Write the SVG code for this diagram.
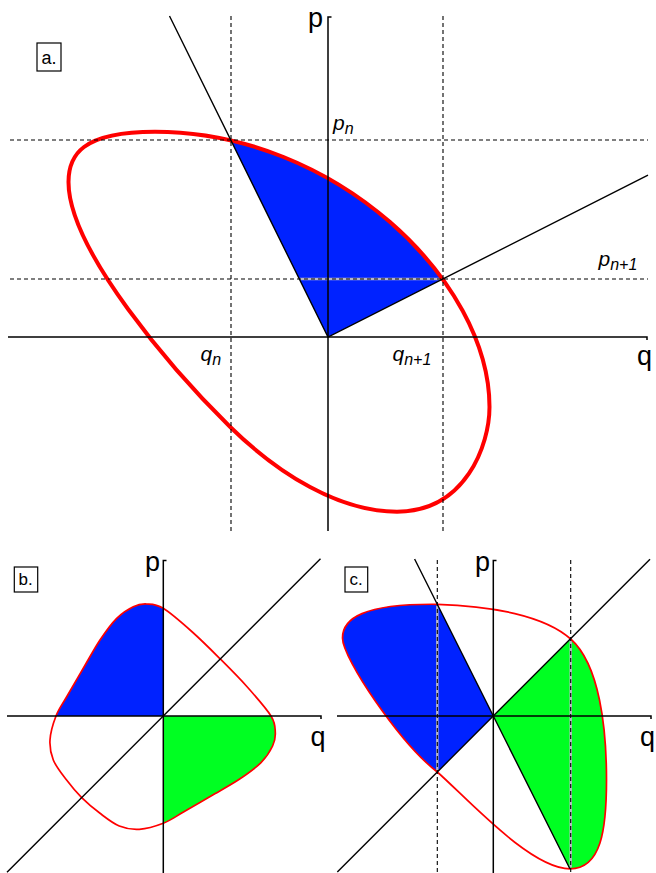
<svg xmlns="http://www.w3.org/2000/svg" width="656" height="873" viewBox="0 0 656 873">
<style>
.ax{fill:none;stroke:#000;stroke-width:1.5}
.ln{fill:none;stroke:#000;stroke-width:1.4}
.ds{fill:none;stroke:#000;stroke-width:1.1;stroke-dasharray:4 3}
.ov{fill:none;stroke:#b8b8c8;stroke-width:2.4}
.blue{fill:#0022ff;stroke:none}
.green{fill:#00ff22;stroke:none}
.redA{fill:none;stroke:#ff0000;stroke-width:4}
.redB{fill:none;stroke:#ff0000;stroke-width:1.7}
.lab{font-family:"Liberation Sans",Arial,sans-serif;font-size:27px;fill:#000}
.it{font-family:"Liberation Sans",Arial,sans-serif;font-style:italic;font-size:21px;fill:#000}
.box{fill:#fff;stroke:#000;stroke-width:1.2}
.bt{font-family:"Liberation Sans",Arial,sans-serif;font-size:17px;fill:#000}
</style>
<defs>
  <clipPath id="clipA">
    <path d="M155,131.7 C335.7,131.7 489.5,281 489.5,407 C489.5,444.7 465.7,511.7 397,511.7 C339.3,511.7 278.4,474.2 230,426.7 C173.3,371.1 68.5,250 68.5,182 C68.5,155.7 81,131.7 155,131.7 Z"/>
  </clipPath>
  <clipPath id="clipC">
    <path d="M437.3,604.3 C492.3,606 544.6,615.7 570.7,639 C599.8,664.9 606.5,728.8 606.5,780 C606.5,829.6 601.2,868.8 570,868.8 C530.5,868.8 467.3,798.4 437.3,772 C400.2,743.4 342.5,658.6 342.5,638 C342.5,618.7 362.9,603.5 437.3,604.3 Z"/>
  </clipPath>
</defs>
<g id="panel-a">
  <g id="a-fill">
    <path class="blue" clip-path="url(#clipA)" d="M328,337 L169.5,16 L648,16 L648,175.2 Z"/>
    <path class="ov" d="M299.5,279 H442"/>
  </g>
  <g id="a-curve">
    <path class="redA" d="M155,131.7 C335.7,131.7 489.5,281 489.5,407 C489.5,444.7 465.7,511.7 397,511.7 C339.3,511.7 278.4,474.2 230,426.7 C173.3,371.1 68.5,250 68.5,182 C68.5,155.7 81,131.7 155,131.7 Z"/>
  </g>
  <g id="a-connectors">
    <path class="ds" d="M231,16 V531"/>
    <path class="ds" d="M443,16 V531"/>
    <path class="ds" d="M10,140 H648"/>
    <path class="ds" d="M10,279 H648"/>
    <path class="ax" d="M331.5,17 H328 V531"/>
    <path class="ax" d="M8,337 H647 V340"/>
    <path class="ln" d="M169.5,16 L328,337 L648,175.2"/>
  </g>
  <g id="a-labels">
    <rect class="box" x="37" y="43" width="24" height="28"/>
    <text class="bt" x="41.5" y="64" style="font-size:18px">a.</text>
    <text class="lab" x="308" y="26.5">p</text>
    <text class="lab" x="637" y="364.5">q</text>
    <text class="it" x="333" y="129.5">p<tspan font-size="16" dy="4">n</tspan></text>
    <text class="it" x="598.5" y="266">p<tspan font-size="16" dy="4">n+1</tspan></text>
    <text class="it" x="200.5" y="361">q<tspan font-size="16" dy="4">n</tspan></text>
    <text class="it" x="392.5" y="361">q<tspan font-size="16" dy="4">n+1</tspan></text>
  </g>
</g>
<g id="panel-b">
  <g id="b-fill">
    <path class="blue" d="M163.3,716 L163.3,608.3 C155.7,603.63 151.7,604.27 146.7,604 C141.7,603.73 138.3,604.32 133.3,606.7 C128.3,609.08 122.25,612.75 116.7,618.3 C111.15,623.85 105.57,631.67 100,640 C94.43,648.33 88.85,658.85 83.3,668.3 C77.75,677.75 71.25,688.75 66.7,696.7 C62.15,704.65 58.78,708.78 56,716 Z"/>
    <path class="green" d="M163.3,716 L163.3,823.3 C170.52,820.52 174.65,817.15 182.6,812.6 C190.55,808.05 201.55,801.55 211,796 C220.45,790.45 230.97,784.87 239.3,779.3 C247.63,773.73 255.45,768.15 261,762.6 C266.55,757.05 270.22,751 272.6,746 C274.98,741 275.57,737.6 275.3,732.6 C275.03,727.6 275.67,723.6 271,716 Z"/>
  </g>
  <g id="b-curve">
    <path class="redB" d="M220.3,659 C211.13,649.83 201.8,640.45 192.3,632 C182.8,623.55 170.9,612.97 163.3,608.3 C155.7,603.63 151.7,604.27 146.7,604 C141.7,603.73 138.3,604.32 133.3,606.7 C128.3,609.08 122.25,612.75 116.7,618.3 C111.15,623.85 105.57,631.67 100,640 C94.43,648.33 88.85,658.85 83.3,668.3 C77.75,677.75 71.25,688.75 66.7,696.7 C62.15,704.65 58.78,708.78 56,716 C53.22,723.22 50.45,732.67 50,740 C49.55,747.33 50.63,753.45 53.3,760 C55.97,766.55 61.27,773.03 66,779.3 C70.73,785.57 76.03,791.93 81.7,797.6 C87.37,803.27 93.73,808.57 100,813.3 C106.27,818.03 112.75,823.33 119.3,826 C125.85,828.67 131.97,829.75 139.3,829.3 C146.63,828.85 156.08,826.08 163.3,823.3 C170.52,820.52 174.65,817.15 182.6,812.6 C190.55,808.05 201.55,801.55 211,796 C220.45,790.45 230.97,784.87 239.3,779.3 C247.63,773.73 255.45,768.15 261,762.6 C266.55,757.05 270.22,751 272.6,746 C274.98,741 275.57,737.6 275.3,732.6 C275.03,727.6 275.67,723.6 271,716 C266.33,708.4 255.75,696.5 247.3,687 C238.85,677.5 229.47,668.17 220.3,659 Z"/>
  </g>
  <g id="b-connectors">
    <path class="ax" d="M166.5,560.5 H163.3 V873"/>
    <path class="ax" d="M7,716 H321 V719"/>
    <path class="ln" d="M7,872.3 L320.5,558.8"/>
  </g>
  <g id="b-labels">
    <rect class="box" x="14.3" y="567" width="23.4" height="25"/>
    <text class="bt" x="18.5" y="585">b.</text>
    <text class="lab" x="145" y="570.5">p</text>
    <text class="lab" x="310.5" y="745.5">q</text>
  </g>
</g>
<g id="panel-c">
  <g id="c-fill">
    <path class="blue" clip-path="url(#clipC)" d="M493.3,716 L414.6,559 L330,559 L330,879.3 Z"/>
    <path class="green" clip-path="url(#clipC)" d="M493.3,716 L650,559.3 L700,559.3 L700,900 L585.5,900 Z"/>
    <path class="ov" d="M437.3,605.5 V771"/>
    <path class="ov" d="M570.7,640 V867.5"/>
  </g>
  <g id="c-curve">
    <path class="redB" d="M437.3,604.3 C492.3,606 544.6,615.7 570.7,639 C599.8,664.9 606.5,728.8 606.5,780 C606.5,829.6 601.2,868.8 570,868.8 C530.5,868.8 467.3,798.4 437.3,772 C400.2,743.4 342.5,658.6 342.5,638 C342.5,618.7 362.9,603.5 437.3,604.3 Z"/>
  </g>
  <g id="c-connectors">
    <path class="ds" d="M437.3,560 V873"/>
    <path class="ds" d="M570.7,560 V873"/>
    <path class="ax" d="M496.5,560.5 H493.3 V873"/>
    <path class="ax" d="M337,716 H651 V719"/>
    <path class="ln" d="M337.3,872 L650,559.3"/>
    <path class="ln" d="M414.6,559 L493.3,716 L569.9,868.8"/>
  </g>
  <g id="c-labels">
    <rect class="box" x="345" y="567" width="22.7" height="25"/>
    <text class="bt" x="349.5" y="585">c.</text>
    <text class="lab" x="475" y="570.5">p</text>
    <text class="lab" x="640" y="745.5">q</text>
  </g>
</g>
</svg>
